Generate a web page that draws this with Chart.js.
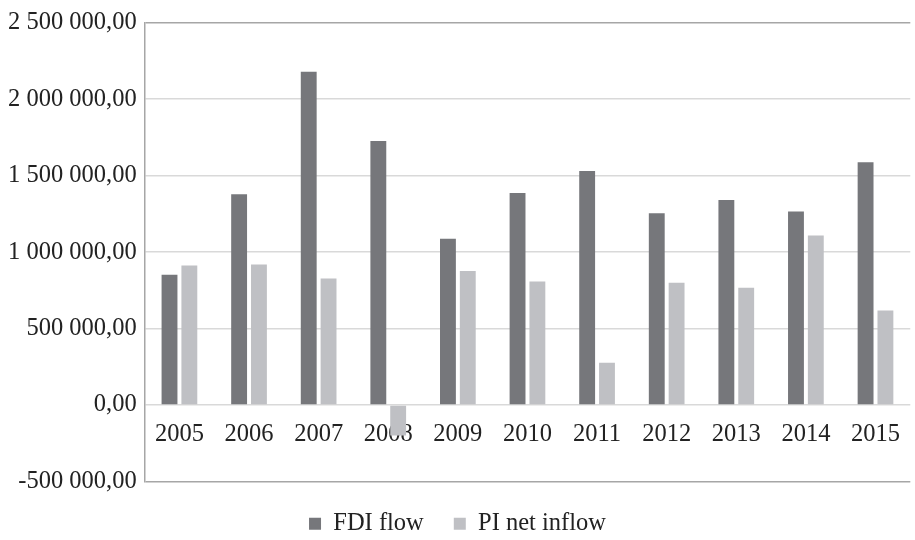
<!DOCTYPE html>
<html>
<head>
<meta charset="utf-8">
<script src="https://cdn.jsdelivr.net/npm/chart.js@4.4.1/dist/chart.umd.min.js"></script>
<style>
  html, body { margin: 0; padding: 0; background: #fff; }
  #wrap { width: 915px; height: 540px; position: relative; }
</style>
</head>
<body>
<div id="wrap"><canvas id="fdiChart"></canvas></div>
<script>
// ===== DATA =====
const years = ['2005', '2006', '2007', '2008', '2009', '2010', '2011', '2012', '2013', '2014', '2015'];
const fdiFlow = [852000, 1378000, 2180000, 1727000, 1088000, 1387000, 1531000, 1254000, 1341000, 1265000, 1588000];
const piNetInflow = [913000, 919000, 828000, -200000, 876000, 808000, 277000, 799000, 767000, 1109000, 618000];
const yTicks = [-500000, 0, 500000, 1000000, 1500000, 2000000, 2500000];

const serif = '"Liberation Serif", "Times New Roman", serif';
const fontSize = 24.5;

// "2 500 000,00" style
function fmt(v) {
    const neg = v < 0;
    const parts = Math.abs(v).toFixed(2).split('.');
    const intPart = parts[0].replace(/\B(?=(\d{3})+(?!\d))/g, ' ');
    return (neg ? '-' : '') + intPart + ',' + parts[1];
}

const ctx = document.getElementById('fdiChart');
new Chart(ctx, {
    type: 'bar',
    data: {
        labels: years,
        datasets: [
            {
                label: 'FDI flow',
                data: fdiFlow,
                backgroundColor: '#76777b',
                categoryPercentage: 0.57,
                barPercentage: 0.8
            },
            {
                label: 'PI net inflow',
                data: piNetInflow,
                backgroundColor: '#bfc0c4',
                categoryPercentage: 0.57,
                barPercentage: 0.8
            }
        ]
    },
    options: {
        responsive: true,
        maintainAspectRatio: false,
        animation: false,
        layout: { padding: { top: 10, left: 0, right: 0, bottom: -6 } },
        plugins: {
            legend: {
                position: 'bottom',
                labels: {
                    boxWidth: 12,
                    boxHeight: 12,
                    padding: 30,
                    color: '#222',
                    font: { family: serif, size: fontSize }
                }
            },
            tooltip: { enabled: false }
        },
        scales: {
            x: {
                position: { y: 0 },
                z: 1,
                grid: { display: false, drawTicks: false },
                border: { display: false },
                ticks: {
                    padding: 15,
                    color: '#222',
                    font: { family: serif, size: fontSize }
                }
            },
            y: {
                min: yTicks[0],
                max: yTicks[yTicks.length - 1],
                afterBuildTicks: (axis) => { axis.ticks = yTicks.map(v => ({ value: v })); },
                grid: {
                    drawTicks: false,
                    lineWidth: 1.5,
                    color: (c) => (c.tick && (c.tick.value === 2500000 || c.tick.value === -500000)) ? '#a6a6a6' : '#d9d9d9'
                },
                border: { color: '#a6a6a6', width: 1.5 },
                ticks: {
                    padding: 8,
                    color: '#222',
                    font: { family: serif, size: fontSize },
                    callback: (v) => fmt(v)
                }
            }
        }
    }
});
</script>
</body>
</html>
